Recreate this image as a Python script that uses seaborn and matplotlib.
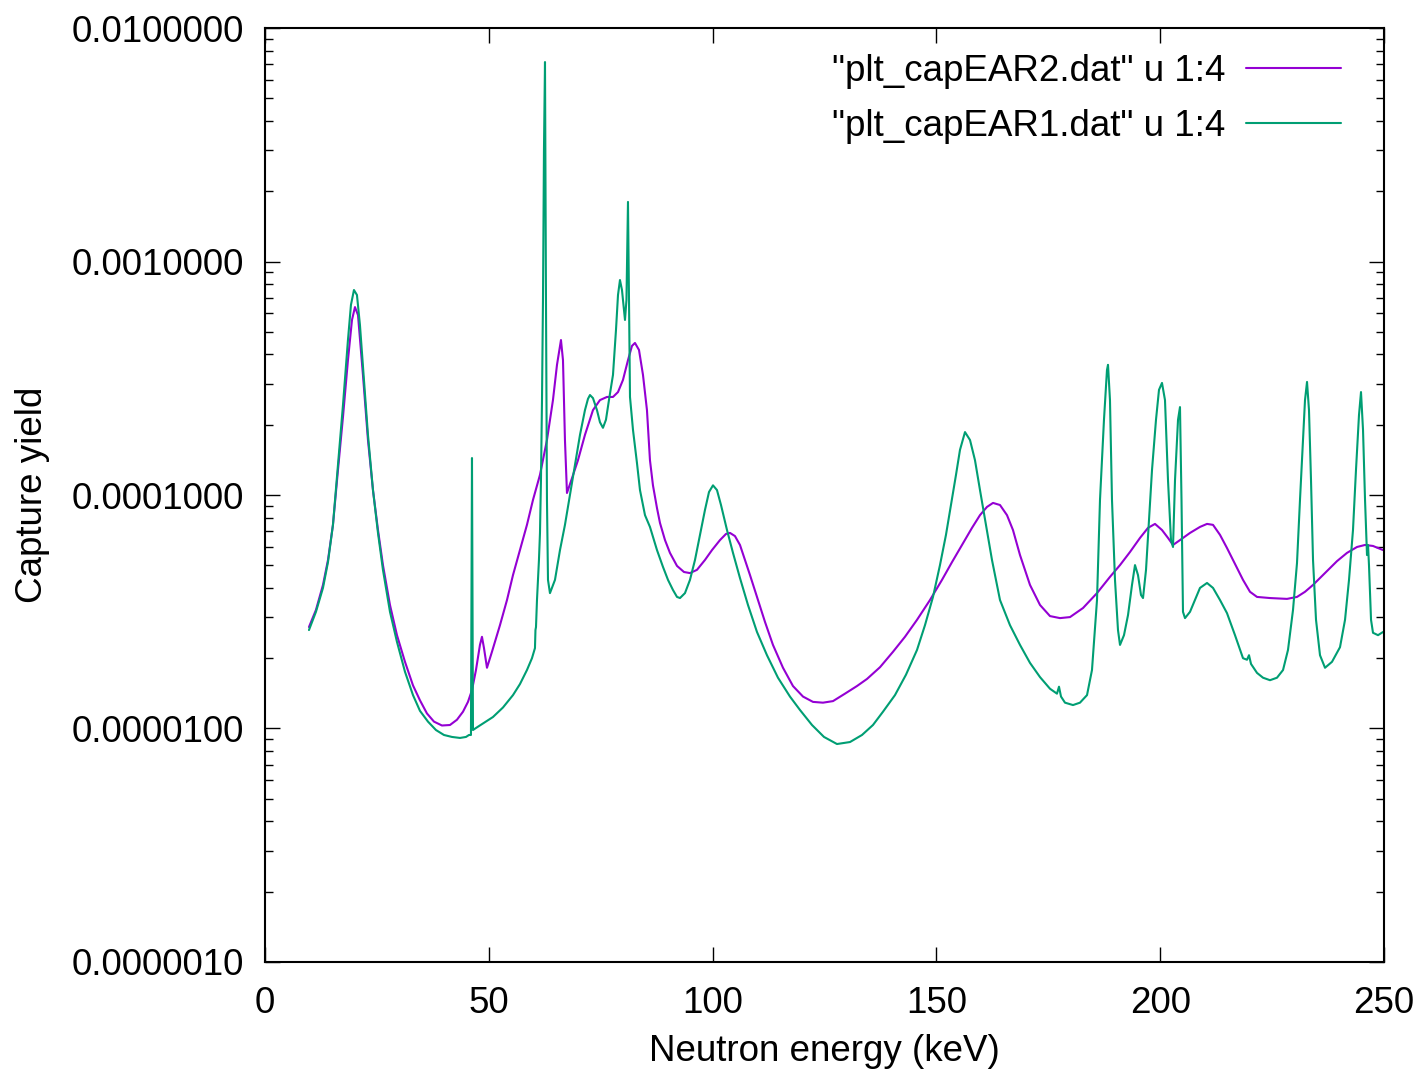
import numpy as np
import pandas as pd
import matplotlib
matplotlib.use("Agg")
import matplotlib.pyplot as plt
import matplotlib.ticker as mticker
import seaborn as sns

# ---- data (energy in keV, capture yield) ----
ear2_label = '"plt_capEAR2.dat" u 1:4'
ear1_label = '"plt_capEAR1.dat" u 1:4'

ear2_energy = [
    9.83, 11.39, 12.96, 14.08, 15.19, 16.31, 17.43, 18.54, 19.44, 20.11,
    20.78, 21.89, 23.01, 24.13, 25.25, 26.36, 27.93, 29.49, 31.28, 33.07,
    34.63, 36.19, 37.76, 39.54, 41.33, 42.89, 44.24, 45.35, 46.25, 47.14,
    48.03, 48.48, 48.93, 49.60, 50.71, 52.50, 54.07, 55.41, 56.97, 58.53,
    59.88, 61.44, 63.00, 64.34, 65.24, 66.13, 66.58, 67.02, 67.47, 68.59,
    69.93, 71.49, 73.28, 74.84, 76.41, 77.75, 78.87, 79.98, 81.10, 81.99,
    82.66, 83.56, 84.45, 85.34, 86.01, 86.68, 87.58, 88.25, 89.37, 90.48,
    92.05, 93.61, 94.95, 96.51, 98.30, 99.87, 101.65, 102.99, 103.89, 105.00,
    106.12, 107.24, 108.36, 109.92, 111.71, 113.49, 115.73, 117.96, 120.20, 122.43,
    124.66, 126.90, 129.58, 132.26, 134.50, 137.40, 140.30, 142.98, 145.67, 148.57,
    151.25, 153.49, 155.72, 157.95, 159.74, 161.30, 162.65, 164.21, 165.77, 167.11,
    168.68, 170.91, 173.15, 175.38, 177.61, 179.85, 182.75, 185.88, 188.78, 191.02,
    193.25, 195.49, 197.27, 198.84, 200.40, 201.74, 202.86, 204.42, 206.66, 208.89,
    210.46, 211.80, 213.36, 214.92, 216.26, 218.50, 220.06, 221.63, 224.53, 228.33,
    230.56, 232.35, 234.14, 236.82, 239.50, 241.73, 243.97, 245.76, 247.54, 249.78,
]
ear2_yield = [
    2.72e-5, 3.22e-5, 4.12e-5, 5.27e-5, 7.45e-5, 1.28e-4, 2.16e-4, 3.78e-4, 5.62e-4, 6.38e-4,
    5.90e-4, 3.27e-4, 1.72e-4, 1.05e-4, 7.08e-5, 5.01e-5, 3.38e-5, 2.51e-5, 1.93e-5, 1.53e-5,
    1.32e-5, 1.16e-5, 1.07e-5, 1.03e-5, 1.035e-5, 1.09e-5, 1.18e-5, 1.30e-5, 1.46e-5, 1.78e-5,
    2.28e-5, 2.47e-5, 2.21e-5, 1.82e-5, 2.13e-5, 2.77e-5, 3.55e-5, 4.54e-5, 5.81e-5, 7.45e-5,
    9.53e-5, 1.22e-4, 1.72e-4, 2.55e-4, 3.61e-4, 4.61e-4, 3.78e-4, 1.72e-4, 1.02e-4, 1.18e-4,
    1.41e-4, 1.81e-4, 2.31e-4, 2.55e-4, 2.63e-4, 2.63e-4, 2.76e-4, 3.11e-4, 3.78e-4, 4.35e-4,
    4.48e-4, 4.18e-4, 3.27e-4, 2.31e-4, 1.41e-4, 1.10e-4, 8.79e-5, 7.59e-5, 6.41e-5, 5.65e-5,
    4.97e-5, 4.68e-5, 4.63e-5, 4.78e-5, 5.27e-5, 5.81e-5, 6.41e-5, 6.81e-5, 6.88e-5, 6.67e-5,
    6.11e-5, 5.27e-5, 4.54e-5, 3.66e-5, 2.86e-5, 2.28e-5, 1.82e-5, 1.52e-5, 1.37e-5, 1.30e-5,
    1.29e-5, 1.31e-5, 1.41e-5, 1.52e-5, 1.63e-5, 1.83e-5, 2.13e-5, 2.47e-5, 2.92e-5, 3.55e-5,
    4.33e-5, 5.16e-5, 6.11e-5, 7.23e-5, 8.20e-5, 8.89e-5, 9.25e-5, 9.06e-5, 8.20e-5, 7.08e-5,
    5.53e-5, 4.12e-5, 3.38e-5, 3.03e-5, 2.97e-5, 3.00e-5, 3.28e-5, 3.80e-5, 4.46e-5, 5.01e-5,
    5.70e-5, 6.55e-5, 7.23e-5, 7.52e-5, 7.08e-5, 6.55e-5, 6.11e-5, 6.41e-5, 6.88e-5, 7.30e-5,
    7.52e-5, 7.45e-5, 6.75e-5, 5.93e-5, 5.27e-5, 4.33e-5, 3.85e-5, 3.66e-5, 3.62e-5, 3.59e-5,
    3.66e-5, 3.85e-5, 4.12e-5, 4.63e-5, 5.21e-5, 5.65e-5, 5.99e-5, 6.11e-5, 6.05e-5, 5.81e-5,
]

ear1_energy = [
    9.83, 11.39, 12.96, 14.08, 15.19, 16.31, 17.43, 18.54, 19.21, 19.88,
    20.55, 21.22, 22.12, 23.01, 24.13, 25.25, 26.36, 27.93, 29.49, 31.28,
    33.07, 34.63, 36.42, 38.20, 39.99, 41.78, 43.57, 44.91, 45.58, 46.02,
    46.25, 46.47, 47.14, 48.93, 50.94, 53.17, 55.41, 56.97, 58.53, 59.65,
    60.32, 60.43, 60.55, 60.77, 61.21, 61.44, 61.66, 61.89, 62.11, 62.33,
    62.56, 62.78, 63.00, 63.23, 63.67, 64.79, 65.91, 67.02, 68.14, 69.26,
    70.38, 71.49, 72.16, 72.61, 73.28, 74.17, 74.84, 75.51, 76.18, 76.85,
    77.75, 78.42, 78.87, 79.31, 79.76, 80.21, 80.43, 80.76, 81.10, 81.32,
    81.55, 82.22, 83.11, 83.78, 84.90, 86.01, 87.58, 88.92, 90.04, 91.15,
    92.05, 92.72, 93.83, 94.95, 96.07, 97.18, 98.30, 99.20, 100.09, 100.98,
    101.88, 103.22, 104.56, 106.12, 107.91, 109.92, 112.15, 114.61, 117.29, 119.53,
    122.21, 124.89, 127.79, 130.70, 133.38, 135.83, 138.07, 140.75, 143.21, 145.67,
    147.45, 149.24, 150.80, 152.14, 153.26, 154.38, 155.27, 156.39, 157.51, 158.62,
    159.74, 161.08, 162.42, 164.21, 166.44, 168.68, 170.91, 173.15, 175.38, 176.94,
    177.39, 177.84, 178.73, 180.52, 182.08, 183.65, 184.76, 185.88, 186.55, 187.44,
    188.11, 188.34, 188.78, 189.23, 189.90, 190.57, 191.02, 191.91, 192.81, 193.70,
    194.37, 195.04, 195.71, 196.16, 196.83, 197.50, 198.17, 199.06, 199.73, 200.40,
    201.07, 201.74, 202.41, 202.86, 203.31, 203.98, 204.42, 204.76, 205.09, 205.54,
    206.66, 207.77, 208.89, 210.46, 211.80, 213.36, 214.92, 216.71, 218.50, 219.39,
    219.84, 220.29, 221.63, 222.97, 224.53, 226.09, 227.44, 228.55, 229.67, 230.56,
    231.23, 231.90, 232.35, 232.80, 233.24, 233.69, 234.14, 234.81, 235.70, 236.82,
    238.38, 240.17, 241.29, 242.18, 243.07, 243.74, 244.41, 244.86, 245.31, 245.76,
    246.20, 246.43, 246.65, 247.10, 247.54, 248.66, 249.78,
]
ear1_yield = [
    2.64e-5, 3.16e-5, 4.00e-5, 5.16e-5, 7.45e-5, 1.34e-4, 2.43e-4, 4.61e-4, 6.52e-4, 7.55e-4,
    7.19e-4, 5.35e-4, 3.11e-4, 1.81e-4, 1.05e-4, 6.88e-5, 4.78e-5, 3.16e-5, 2.35e-5, 1.75e-5,
    1.39e-5, 1.19e-5, 1.07e-5, 9.85e-6, 9.38e-6, 9.20e-6, 9.11e-6, 9.20e-6, 9.38e-6, 9.38e-6,
    1.44e-4, 9.85e-6, 1.005e-5, 1.057e-5, 1.12e-5, 1.23e-5, 1.39e-5, 1.55e-5, 1.78e-5, 2.00e-5,
    2.21e-5, 2.64e-5, 2.72e-5, 3.55e-5, 5.27e-5, 6.88e-5, 1.16e-4, 2.55e-4, 6.84e-4, 3.00e-3,
    7.15e-3, 6.84e-4, 9.53e-5, 4.33e-5, 3.80e-5, 4.33e-5, 5.81e-5, 7.45e-5, 1.00e-4, 1.34e-4,
    1.81e-4, 2.31e-4, 2.58e-4, 2.68e-4, 2.60e-4, 2.31e-4, 2.05e-4, 1.94e-4, 2.10e-4, 2.55e-4,
    3.27e-4, 5.09e-4, 7.19e-4, 8.33e-4, 7.55e-4, 6.20e-4, 5.62e-4, 6.84e-4, 1.80e-3, 6.84e-4,
    2.63e-4, 1.90e-4, 1.37e-4, 1.05e-4, 8.20e-5, 7.30e-5, 5.81e-5, 4.92e-5, 4.33e-5, 3.92e-5,
    3.66e-5, 3.62e-5, 3.80e-5, 4.33e-5, 5.27e-5, 6.75e-5, 8.63e-5, 1.03e-4, 1.10e-4, 1.05e-4,
    9.06e-5, 7.08e-5, 5.65e-5, 4.41e-5, 3.38e-5, 2.59e-5, 2.06e-5, 1.65e-5, 1.37e-5, 1.20e-5,
    1.035e-5, 9.20e-6, 8.58e-6, 8.75e-6, 9.38e-6, 1.035e-5, 1.18e-5, 1.39e-5, 1.70e-5, 2.17e-5,
    2.77e-5, 3.66e-5, 5.01e-5, 6.75e-5, 9.06e-5, 1.22e-4, 1.56e-4, 1.86e-4, 1.72e-4, 1.41e-4,
    1.05e-4, 7.45e-5, 5.27e-5, 3.55e-5, 2.77e-5, 2.28e-5, 1.91e-5, 1.66e-5, 1.48e-5, 1.41e-5,
    1.51e-5, 1.37e-5, 1.29e-5, 1.26e-5, 1.29e-5, 1.39e-5, 1.78e-5, 3.55e-5, 9.53e-5, 2.10e-4,
    3.43e-4, 3.61e-4, 2.55e-4, 9.53e-5, 4.33e-5, 2.64e-5, 2.28e-5, 2.51e-5, 3.06e-5, 4.12e-5,
    5.01e-5, 4.54e-5, 3.73e-5, 3.62e-5, 4.78e-5, 7.82e-5, 1.28e-4, 2.10e-4, 2.82e-4, 3.02e-4,
    2.55e-4, 1.16e-4, 6.41e-5, 5.99e-5, 1.16e-4, 2.10e-4, 2.38e-4, 9.53e-5, 3.16e-5, 2.97e-5,
    3.16e-5, 3.55e-5, 4.00e-5, 4.20e-5, 4.00e-5, 3.55e-5, 3.12e-5, 2.51e-5, 2.00e-5, 1.97e-5,
    2.06e-5, 1.89e-5, 1.73e-5, 1.65e-5, 1.61e-5, 1.65e-5, 1.78e-5, 2.17e-5, 3.22e-5, 5.11e-5,
    9.53e-5, 1.72e-4, 2.55e-4, 3.05e-4, 2.31e-4, 1.16e-4, 5.27e-5, 2.92e-5, 2.06e-5, 1.82e-5,
    1.93e-5, 2.23e-5, 2.92e-5, 4.33e-5, 7.08e-5, 1.28e-4, 2.20e-4, 2.76e-4, 1.90e-4, 9.53e-5,
    5.53e-5, 6.11e-5, 4.97e-5, 2.92e-5, 2.57e-5, 2.51e-5, 2.59e-5,
]

x_ticks = [0, 50, 100, 150, 200, 250]
y_ticks = [1e-6, 1e-5, 1e-4, 1e-3, 1e-2]
x_label = "Neutron energy (keV)"
y_label = "Capture yield"

# ---- build long-form table ----
df = pd.concat([
    pd.DataFrame({"energy": ear2_energy, "yield": ear2_yield, "series": ear2_label}),
    pd.DataFrame({"energy": ear1_energy, "yield": ear1_yield, "series": ear1_label}),
], ignore_index=True)

sns.set_theme(style="white")
plt.rcParams["font.family"] = ["Liberation Sans", "DejaVu Sans"]
plt.rcParams["text.color"] = "black"
plt.rcParams["axes.labelcolor"] = "black"
plt.rcParams["xtick.color"] = "black"
plt.rcParams["ytick.color"] = "black"

FS = 26.5

fig = plt.figure(figsize=(14.23, 10.74), dpi=100)
ax = fig.add_axes([0.1862, 0.1043, 0.9726 - 0.1862, 0.9739 - 0.1043])

purple = "#9400d3"
green = "#009e73"
sns.lineplot(data=df, x="energy", y="yield", hue="series",
             hue_order=[ear2_label, ear1_label], palette=[purple, green],
             sort=False, estimator=None, linewidth=1.5, legend=False, ax=ax)

ax.set_yscale("log")
ax.set_xlim(0, 250)
ax.set_ylim(1e-6, 1e-2)
ax.set_xticks(x_ticks)
ax.set_yticks(y_ticks)
ax.yaxis.set_major_formatter(mticker.FuncFormatter(lambda v, p: f"{v:.7f}"))
ax.yaxis.set_minor_locator(mticker.LogLocator(base=10, subs=np.arange(2, 10), numticks=20))
ax.yaxis.set_minor_formatter(mticker.NullFormatter())
ax.xaxis.set_minor_locator(mticker.NullLocator())

ax.tick_params(which="both", direction="in", left=True, bottom=True, top=True,
               right=True, colors="black", labelcolor="black", labelsize=FS)
ax.tick_params(which="major", length=11, width=1.0)
ax.tick_params(which="minor", length=6, width=1.0)
ax.tick_params(axis="x", which="major", pad=17)
ax.tick_params(axis="y", which="major", pad=15)
for s in ax.spines.values():
    s.set_color("black")
    s.set_linewidth(1.5)

ax.set_xlabel(x_label, fontsize=FS, labelpad=10, color="black")
ax.set_ylabel(y_label, fontsize=FS, labelpad=16, color="black")

leg = ax.legend(ax.lines[:2], [ear2_label, ear1_label], loc="upper right",
                frameon=False, markerfirst=False, fontsize=FS, handlelength=2.6,
                handletextpad=0.55, labelspacing=0.55, borderaxespad=0.3,
                bbox_to_anchor=(0.985, 1.0))
for t in leg.get_texts():
    t.set_color("black")

fig.savefig("out.png", dpi=100, facecolor="white")
